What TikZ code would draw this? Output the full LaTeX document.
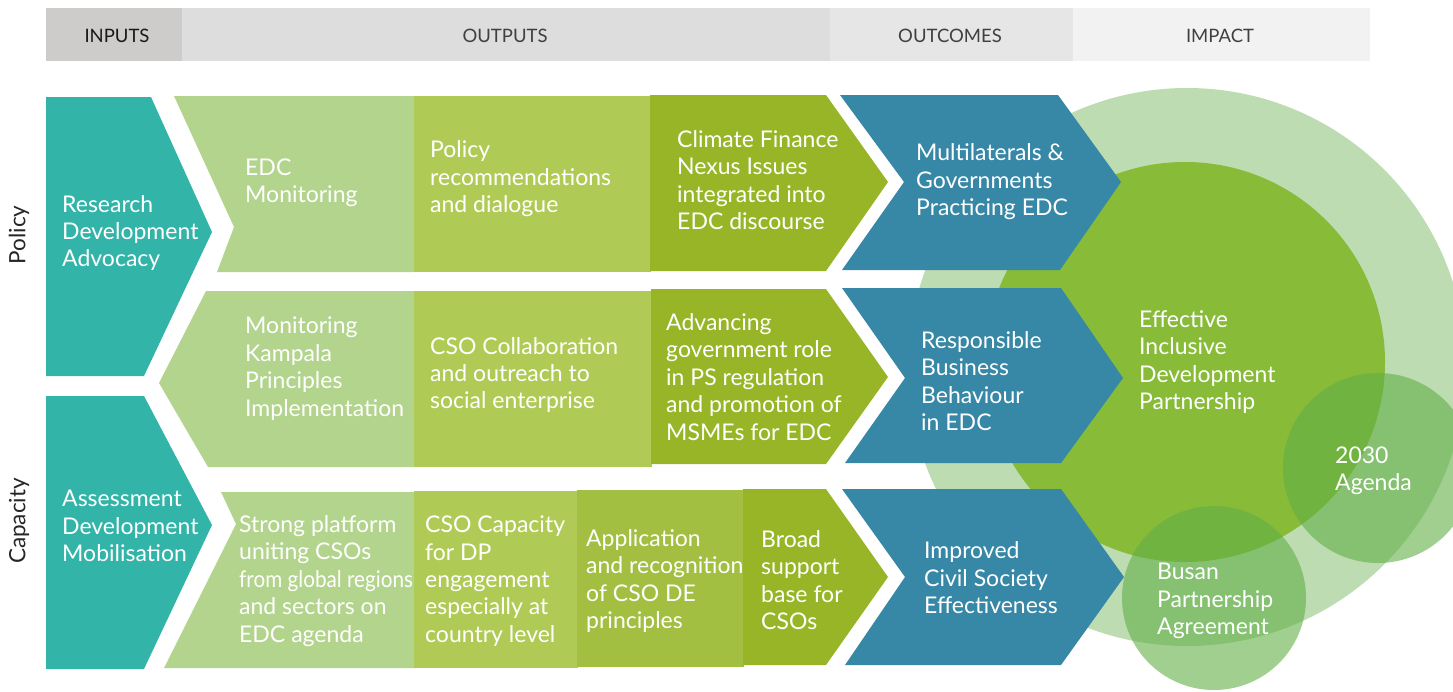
\documentclass[tikz,border=0pt]{standalone}
\usepackage{fontspec}
\setmainfont{Lato}
\definecolor{teal1}{HTML}{32B4A8}
\definecolor{gA}{HTML}{B3D48C}
\definecolor{gB}{HTML}{B0CB55}
\definecolor{gC}{HTML}{A3BF42}
\definecolor{gD}{HTML}{98B527}
\definecolor{blue1}{HTML}{3787A6}
\definecolor{circL}{HTML}{BDDCB1}
\definecolor{circM}{HTML}{87BB38}
\definecolor{circS}{HTML}{61AF46}
\definecolor{hd1}{HTML}{CDCCCB}
\definecolor{hd2}{HTML}{DDDDDD}
\definecolor{hd3}{HTML}{E6E6E6}
\definecolor{hd4}{HTML}{F2F2F2}
\tikzset{
  lbl/.style={text=white, align=left, anchor=west, inner sep=0pt, font=\fontsize{23}{27.4}\selectfont},
  hdr/.style={text=#1, inner sep=0pt, font=\fontsize{18.5}{20}\selectfont},
  side/.style={text=black!85, inner sep=0pt, rotate=90, font=\fontsize{22.5}{24}\selectfont},
  smallc/.style={fill=circS, fill opacity=0.6}
}
\begin{document}
\begin{tikzpicture}[x=1pt,y=-1pt]
\useasboundingbox (0,0) rectangle (1453,691);
\clip (0,0) rectangle (1453,691);
% header
\fill[hd1] (46,8) rectangle (182,61);
\fill[hd2] (182,8) rectangle (830,61);
\fill[hd3] (830,8) rectangle (1073,61);
\fill[hd4] (1073,8) rectangle (1370,61);
\node[hdr=black!90] (hIn) at (117,36) {INPUTS};
\node[hdr=black!75] (hOut) at (505,36) {OUTPUTS};
\node[hdr=black!75] (hOc) at (950,36) {OUTCOMES};
\node[hdr=black!75] (hIm) at (1220,36) {IMPACT};
% side labels
\node[side] (sPol) at (19,235) {Policy};
\node[side] (sCap) at (19,521) {Capacity};
% circles
\fill[circL] (1187,367) circle[radius=279];
\fill[circM] (1185,362) circle[radius=200];
\fill[smallc] (1378,468) circle[radius=95];
\fill[smallc] (1214,598) circle[radius=92];
% inputs
\fill[teal1] (46,97) -- (151,97) -- (212,232) -- (144,376) -- (46,376) -- cycle;
\fill[teal1] (46,396) -- (144,396) -- (212,525) -- (144,669) -- (46,669) -- cycle;
% row 1
\fill[gA] (174,96) -- (414,96) -- (414,272) -- (217,272) -- (234,227) -- cycle;
\fill[gB] (414,96) rectangle (651,272);
\fill[gD] (650,95) -- (826,95) -- (888,182) -- (826,271) -- (650,271) -- cycle;
% row 2
\fill[gA] (206,291) -- (414,291) -- (414,467) -- (208,467) -- (159,383) -- cycle;
\fill[gB] (414,291) rectangle (652,467);
\fill[gD] (651,289) -- (826,289) -- (888,377) -- (826,464) -- (651,464) -- cycle;
% row 3
\fill[gA] (221,492) -- (415,492) -- (415,668) -- (164,668) -- (236,524) -- cycle;
\fill[gB] (414,491) rectangle (578,668);
\fill[gC] (577,490) rectangle (744,667);
\fill[gD] (743,489) -- (826,489) -- (888,577) -- (826,665) -- (743,665) -- cycle;
% outcomes
\fill[blue1] (840,95) -- (1058,95) -- (1121,182) -- (1060,270) -- (842,270) -- (904,182) -- cycle;
\fill[blue1] (842,288) -- (1061,288) -- (1123,378) -- (1061,463) -- (845,463) -- (905,378) -- cycle;
\fill[blue1] (842,489) -- (1061,489) -- (1124,577) -- (1061,665) -- (845,665) -- (905,577) -- cycle;
% texts
\node[lbl] (in1) at (62,233) {Research\\Development\\Advocacy};
\node[lbl] (in2) at (62,526) {Assessment\\Development\\Mobilisation};
\node[lbl] (r1a) at (245,183) {EDC\\Monitoring};
\node[lbl] (r1b) at (430,179) {Policy\\recommendations\\and dialogue};
\node[lbl] (r1c) at (677,180) {Climate Finance\\Nexus Issues\\integrated into\\EDC discourse};
\node[lbl] (r2a) at (245,368.5) {Monitoring\\Kampala\\Principles\\Implementation};
\node[lbl] (r2b) at (430,375) {CSO Collaboration\\and outreach to\\social enterprise};
\node[lbl] (r2c) at (666,377) {Advancing\\government role\\in PS regulation\\and promotion of\\MSMEs for EDC};
\node[lbl] (r3a) at (239,581) {Strong platform\\uniting CSOs\\\scalebox{0.9}[1]{from global regions}\\and sectors on\\EDC agenda};
\node[lbl] (r3b) at (425,581) {CSO Capacity\\for DP\\engagement\\especially at\\country level};
\node[lbl] (r3c) at (586,581) {Application\\and recognition\\of CSO DE\\principles};
\node[lbl] (r3d) at (761,580) {Broad\\support\\base for\\CSOs};
\node[lbl] (o1) at (916,182) {Multilaterals \&\\Governments\\Practicing EDC};
\node[lbl] (o2) at (921,381) {Responsible\\Business\\Behaviour\\in EDC};
\node[lbl] (o3) at (924,578) {Improved\\Civil Society\\Effectiveness};
\node[lbl] (im1) at (1139,362) {Effective\\Inclusive\\Development\\Partnership};
\node[lbl] (im2) at (1335,471) {2030\\Agenda};
\node[lbl] (im3) at (1157,601) {Busan\\Partnership\\Agreement};
\end{tikzpicture}
\end{document}
